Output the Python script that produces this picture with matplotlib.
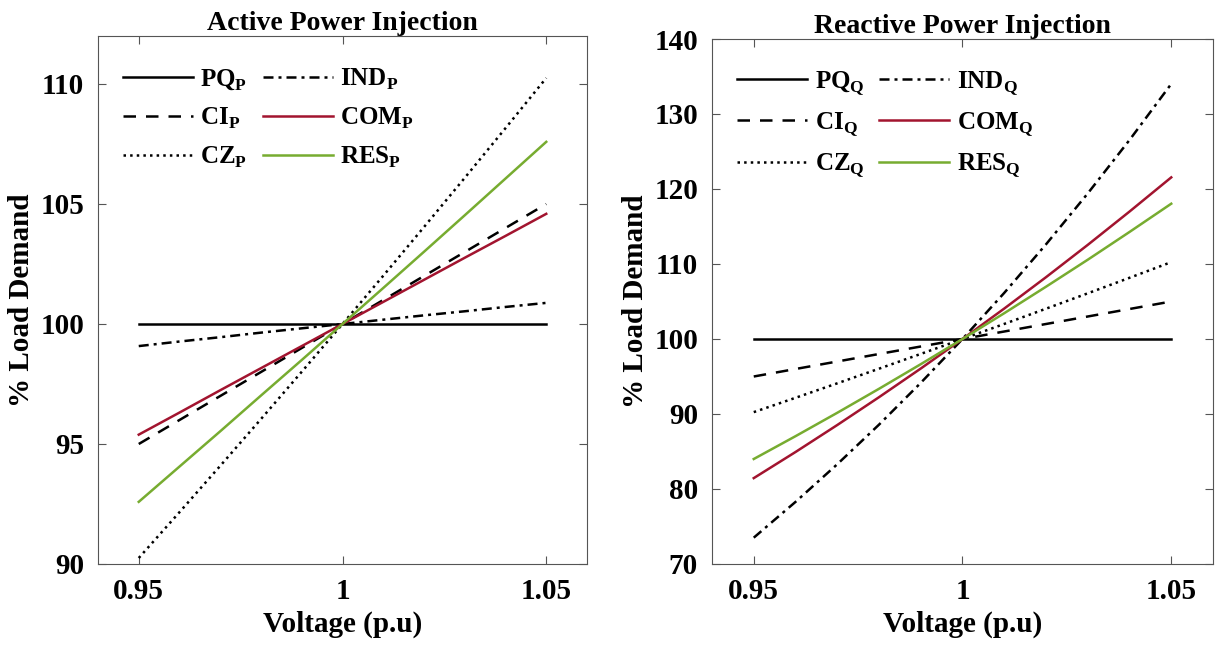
import matplotlib.pyplot as plt
import numpy as np

plt.rcParams['font.family'] = 'Liberation Serif'
plt.rcParams['font.weight'] = 'bold'
plt.rcParams['mathtext.fontset'] = 'custom'
plt.rcParams['mathtext.rm'] = 'Liberation Serif'
plt.rcParams['mathtext.bf'] = 'Liberation Serif:bold'

volt = [0.95, 0.96, 0.97, 0.98, 0.99, 1.00, 1.01, 1.02, 1.03, 1.04, 1.05]

# active power (% of nominal)
pq_p = [100, 100, 100, 100, 100, 100, 100, 100, 100, 100, 100]
ci_p = [95, 96, 97, 98, 99, 100, 101, 102, 103, 104, 105]
cz_p = [90.25, 92.16, 94.09, 96.04, 98.01, 100, 102.01, 104.04, 106.09, 108.16, 110.25]
ind_p = [99.08, 99.27, 99.45, 99.64, 99.82, 100, 100.18, 100.36, 100.53, 100.71, 100.88]
com_p = [95.39, 96.31, 97.24, 98.16, 99.08, 100, 100.92, 101.84, 102.76, 103.67, 104.59]
res_p = [92.59, 94.06, 95.53, 97.02, 98.50, 100, 101.50, 103.01, 104.53, 106.06, 107.59]

# reactive power (% of nominal)
pq_q = [100, 100, 100, 100, 100, 100, 100, 100, 100, 100, 100]
ci_q = [95, 96, 97, 98, 99, 100, 101, 102, 103, 104, 105]
cz_q = [90.25, 92.16, 94.09, 96.04, 98.01, 100, 102.01, 104.04, 106.09, 108.16, 110.25]
ind_q = [73.51, 78.28, 83.30, 88.58, 94.15, 100, 106.15, 112.62, 119.41, 126.53, 134.01]
com_q = [81.45, 84.93, 88.53, 92.24, 96.06, 100, 104.06, 108.24, 112.55, 116.99, 121.55]
res_q = [84.00, 87.04, 90.16, 93.36, 96.64, 100, 103.44, 106.97, 110.57, 114.27, 118.04]

red = '#A2142F'
green = '#77AC30'

fig = plt.figure(figsize=(12.18, 6.47), dpi=100)
ax1 = fig.add_axes([98/1218, 1-564/647, (587-98)/1218, (564-36)/647])
ax2 = fig.add_axes([712/1218, 1-564/647, (1213-712)/1218, (564-39)/647])


def draw(ax, pq, ci, cz, ind, com, res, sub, title, ylim, yticks):
    s = '$_\\mathbf{' + sub + '}$'
    ax.plot(volt, pq, 'k-', lw=1.8, label='PQ' + s)
    ax.plot(volt, ci, 'k--', lw=1.8, dashes=(5, 4), label='CI' + s)
    ax.plot(volt, cz, 'k:', lw=1.8, label='CZ' + s)
    ax.plot(volt, ind, 'k-.', lw=1.8, dashes=(4, 2, 1.2, 2), label='IND' + s)
    ax.plot(volt, com, color=red, lw=1.8, label='COM' + s)
    ax.plot(volt, res, color=green, lw=1.8, label='RES' + s)
    ax.set_xlim(0.94, 1.06)
    ax.set_ylim(*ylim)
    ax.set_xticks([0.95, 1, 1.05])
    ax.set_xticklabels(['0.95', '1', '1.05'])
    ax.set_yticks(yticks)
    ax.tick_params(direction='in', top=True, right=True, labelsize=21,
                   length=6, color='#555555', pad=10)
    for sp in ax.spines.values():
        sp.set_color('#555555')
    ax.set_title(title, fontsize=20, fontweight='bold', pad=4)
    ax.set_xlabel('Voltage (p.u)', fontsize=21, fontweight='bold')
    ax.set_ylabel('% Load Demand', fontsize=21, fontweight='bold')
    ax.legend(ncol=2, loc='upper left', frameon=False,
              handlelength=2.8, handletextpad=0.3, columnspacing=0.6,
              labelspacing=0.55, bbox_to_anchor=(0.005, 0.985),
              prop={'weight': 'bold', 'size': 18})


draw(ax1, pq_p, ci_p, cz_p, ind_p, com_p, res_p, 'P', 'Active Power Injection',
     (90, 112), [90, 95, 100, 105, 110])
draw(ax2, pq_q, ci_q, cz_q, ind_q, com_q, res_q, 'Q', 'Reactive Power Injection',
     (70, 140), [70, 80, 90, 100, 110, 120, 130, 140])

fig.savefig('out.png', dpi=100)
